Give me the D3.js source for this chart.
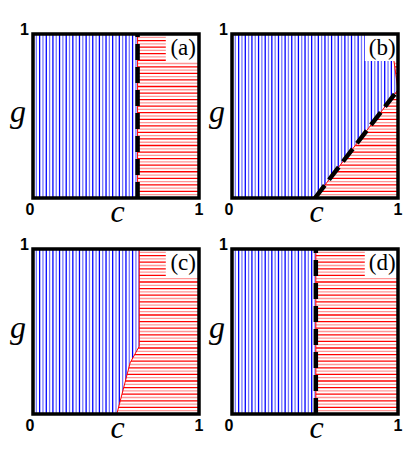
<!DOCTYPE html>
<html><head><meta charset="utf-8">
<script src="https://cdn.jsdelivr.net/npm/d3@7"></script>
<style>body{margin:0;background:#fff}svg{display:block}
.serif{font-family:"Liberation Serif","Times New Roman",Times,serif}
.sans{font-family:"Liberation Sans",Arial,Helvetica,sans-serif;font-weight:bold}
</style>
</head><body>
<script>
// ---- data ----
const panels = ["(a)", "(b)", "(c)", "(d)"];
// phase boundary c(g) as [c, g] points, from g=0 to g=1
const boundaryA = [[0.63, 0], [0.63, 1]];
const boundaryB = [[0.5, 0], [1, 0.66], [0.975, 0.84], [1, 0.84], [1, 1]];
const boundaryC = [[0.505, 0], [0.585, 0.31], [0.64, 0.41], [0.64, 1]];
const boundaryD = [[0.505, 0], [0.505, 1]];
// dashed theory line [c, g] points (null = none)
const dashA = [[0.63, 0], [0.63, 1]];
const dashB = [[0.5, 0], [1, 0.66]];
const dashC = null;
const dashD = [[0.505, 0], [0.505, 1]];
const tickLabels = ["0", "1"];
const axisLabels = ["c", "g"];
const hatchStep = 0.02;

const boundaries = [boundaryA, boundaryB, boundaryC, boundaryD];
const dashes = [dashA, dashB, dashC, dashD];

const W = 415, H = 465;
const svg = d3.select("body").append("svg").attr("width", W).attr("height", H);
const defs = svg.append("defs");

const layout = [
  {x0: 33, x1: 199, y0: 198, y1: 34},
  {x0: 232, x1: 398, y0: 198, y1: 34},
  {x0: 33, x1: 199, y0: 414, y1: 249},
  {x0: 232, x1: 398, y0: 414, y1: 249}
];

const hatchVals = d3.range(0, 1 + 1e-9, hatchStep);

panels.forEach((name, i) => {
  const L = layout[i];
  const x = d3.scaleLinear().domain([0, 1]).range([L.x0, L.x1]);
  const y = d3.scaleLinear().domain([0, 1]).range([L.y0, L.y1]);
  const g = svg.append("g");
  const b = boundaries[i];
  const line = d3.line().x(d => x(d[0])).y(d => y(d[1]));

  const bluePoly = [[0, 0], ...b, [0, 1]];
  const redPoly = [...b, [1, 1], [1, 0]];

  defs.append("clipPath").attr("id", "blue" + i)
    .append("path").attr("d", line(bluePoly) + "Z");
  defs.append("clipPath").attr("id", "red" + i)
    .append("path").attr("d", line(redPoly) + "Z");

  // blue vertical hatching
  g.append("g").attr("clip-path", `url(#blue${i})`)
    .selectAll("line").data(hatchVals).join("line")
    .attr("x1", d => x(d)).attr("x2", d => x(d))
    .attr("y1", y(0)).attr("y2", y(1))
    .attr("stroke", (d, k) => k % 2 ? "#7878ff" : "#0000ff")
    .attr("stroke-width", 1.3);

  // red horizontal hatching
  g.append("g").attr("clip-path", `url(#red${i})`)
    .selectAll("line").data(hatchVals).join("line")
    .attr("y1", d => y(d)).attr("y2", d => y(d))
    .attr("x1", x(0)).attr("x2", x(1))
    .attr("stroke", (d, k) => k % 2 ? "#ff9898" : "#ff0000")
    .attr("stroke-width", 1.3);

  // thin boundary line
  g.append("path").attr("d", line(b)).attr("fill", "none")
    .attr("stroke", "#ff0000").attr("stroke-width", 1);

  // dashed theory line
  if (dashes[i]) {
    g.append("path").attr("d", line(dashes[i])).attr("fill", "none")
      .attr("stroke", "#000").attr("stroke-width", 4.5)
      .attr("stroke-dasharray", "16,7");
  }

  // label box
  g.append("rect").attr("x", x(0.8)).attr("y", y(1))
    .attr("width", x(1) - x(0.8)).attr("height", 27).attr("fill", "#fff");
  g.append("text").attr("class", "serif").attr("x", x(0.905)).attr("y", y(1) + 21)
    .attr("text-anchor", "middle").attr("font-size", 23)
    .text(name);

  // frame
  g.append("rect").attr("x", x(0)).attr("y", y(1))
    .attr("width", x(1) - x(0)).attr("height", y(0) - y(1))
    .attr("fill", "none").attr("stroke", "#000").attr("stroke-width", 3.5);

  // tick labels
  g.append("text").attr("class", "sans").attr("x", x(0) - 4).attr("y", y(1) + 1)
    .attr("text-anchor", "end").attr("font-size", 16).text(tickLabels[1]);
  g.append("text").attr("class", "sans").attr("x", x(0) - 3).attr("y", y(0) + 17)
    .attr("text-anchor", "middle").attr("font-size", 16).text(tickLabels[0]);
  g.append("text").attr("class", "sans").attr("x", x(1)).attr("y", y(0) + 17)
    .attr("text-anchor", "middle").attr("font-size", 16).text(tickLabels[1]);

  // axis labels
  g.append("text").attr("class", "serif").attr("x", x(0.51)).attr("y", y(0) + 24)
    .attr("text-anchor", "middle").attr("font-style", "italic")
    .attr("font-size", 32).text(axisLabels[0]);
  g.append("text").attr("class", "serif").attr("x", x(0) - 15).attr("y", (y(0) + y(1)) / 2 + 6)
    .attr("text-anchor", "middle").attr("font-style", "italic")
    .attr("font-size", 32).text(axisLabels[1]);
});
</script>
</body></html>
